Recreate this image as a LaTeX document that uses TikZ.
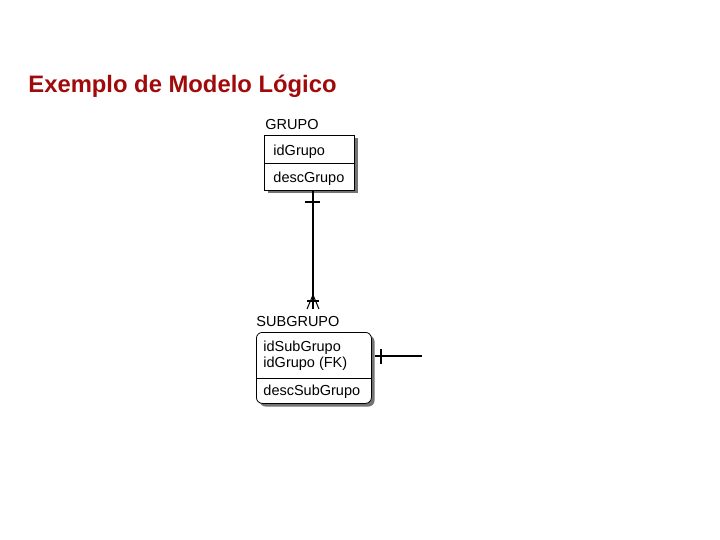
\documentclass[tikz,border=0pt]{standalone}
\usepackage{fontspec}
\setmainfont{Liberation Sans}
\usepackage{tikz}
\usetikzlibrary{calc,positioning}
\definecolor{titlered}{RGB}{160,10,10}

\begin{document}
\begin{tikzpicture}[x=1pt, y=-1pt, line width=0.9pt,
  entity/.style={draw, fill=white, line width=0.8pt, inner sep=0pt},
  shadow/.style={fill=black!55, draw=none},
  lbl/.style={anchor=base west, inner sep=0pt, font=\fontsize{14.5}{16}\selectfont},
  rel/.style={line width=1.7pt}]

  \useasboundingbox[fill=white] (0,0) rectangle (720,540);

  \node[anchor=base west, inner sep=0pt, text=titlered,
        font=\bfseries\fontsize{23.8}{28}\selectfont] (title) at (28,93) {Exemplo de Modelo Lógico};

  % entidade GRUPO
  \fill[shadow] (267.5,138.5) rectangle (357.5,193.5);
  \node[entity, anchor=north west, minimum width=90pt, minimum height=55pt] (grupo) at (264,135) {};
  \draw (grupo.west |- 0,163) -- (grupo.east |- 0,163);
  \node[lbl] (grupoName) at (265,130) {GRUPO};
  \node[lbl] (idGrupo) at (273,156) {idGrupo};
  \node[lbl] (descGrupo) at (273,183) {descGrupo};

  % entidade SUBGRUPO
  \fill[shadow, rounded corners=6pt] (259.5,335.5) rectangle (374.5,406.5);
  \node[entity, rounded corners=6pt, anchor=north west, minimum width=115pt, minimum height=71pt] (subgrupo) at (256,332) {};
  \draw (subgrupo.west |- 0,378) -- (subgrupo.east |- 0,378);
  \node[lbl] (subgrupoName) at (256,326) {SUBGRUPO};
  \node[lbl] (idSubGrupo) at (263,351) {idSubGrupo};
  \node[lbl] (idGrupoFK) at (263,367) {idGrupo (FK)};
  \node[lbl] (descSubGrupo) at (263,395) {descSubGrupo};

  % relacionamento GRUPO -- SUBGRUPO
  \coordinate (cfoot) at (313,309);
  \draw[rel] (grupo.south -| cfoot) -- (cfoot);
  \draw[rel] ($(grupo.south -| cfoot)+(-8,11)$) -- ++(15,0);
  \draw[line width=1pt] ($(cfoot)+(0,-14)$) -- ++(-6,14) ($(cfoot)+(0,-14)$) -- ++(6,14);
  \draw[line width=1.2pt] ($(cfoot)+(-6,-8)$) -- ++(12,0);

  % relacionamento SUBGRUPO -- (externo)
  \coordinate (fkend) at (422,356);
  \draw[rel] ($(subgrupo.east |- fkend)+(3.5,0)$) -- (fkend);
  \draw[rel] (381,349) -- (381,364);

\end{tikzpicture}
\end{document}
